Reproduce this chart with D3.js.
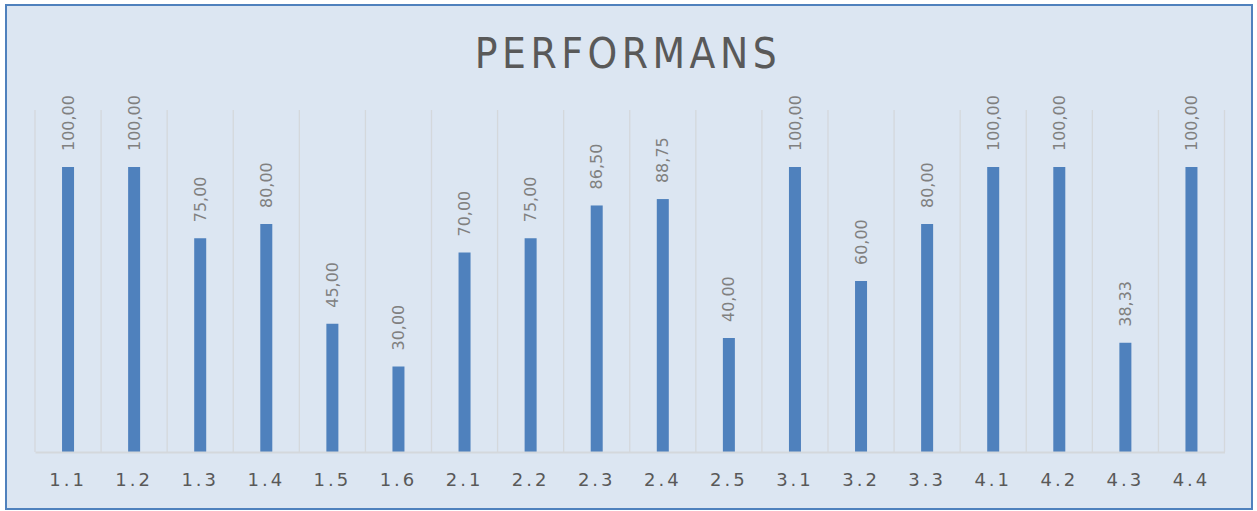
<!DOCTYPE html>
<html>
<head>
<meta charset="utf-8">
<script src="https://cdn.jsdelivr.net/npm/d3@7"></script>
<style>
  body { margin: 0; background: #fff; }
  svg { display: block; }
</style>
</head>
<body>
<div id="container"></div>
<script>
const categories = ['1.1', '1.2', '1.3', '1.4', '1.5', '1.6', '2.1', '2.2', '2.3', '2.4', '2.5', '3.1', '3.2', '3.3', '4.1', '4.2', '4.3', '4.4'],
  values = [100, 100, 75, 80, 45, 30, 70, 75, 86.5, 88.75, 40, 100, 60, 80, 100, 100, 38.33, 100],
  title = 'PERFORMANS';

const W = 1257, H = 511,
  plot = { left: 35, right: 1224.5, top: 110, bottom: 452 };

const svg = d3.select('#container')
  .append('svg')
    .attr('width', W)
    .attr('height', H);

// chart frame
svg.append('rect')
  .attr('x', 6).attr('y', 5)
  .attr('width', 1246).attr('height', 504)
  .attr('fill', '#dce6f2')
  .attr('stroke', '#4f81bd')
  .attr('stroke-width', 2);

svg.append('text')
  .attr('x', 628).attr('y', 68)
  .attr('text-anchor', 'middle')
  .attr('font-family', 'DejaVu Sans Condensed, DejaVu Sans, sans-serif')
  .attr('font-size', 42)
  .attr('letter-spacing', 4.5)
  .attr('fill', '#595959')
  .text(title);

const x = d3.scaleBand()
    .domain(categories)
    .range([plot.left, plot.right]),
  y = d3.scaleLinear()
    .domain([0, 120])
    .range([plot.bottom, plot.top]);

// vertical gridlines at category boundaries
svg.append('g')
  .selectAll('line')
  .data(d3.range(categories.length + 1))
  .enter()
  .append('line')
    .attr('x1', i => plot.left + i * x.step())
    .attr('x2', i => plot.left + i * x.step())
    .attr('y1', plot.top)
    .attr('y2', plot.bottom)
    .attr('stroke', '#d4d8dc')
    .attr('stroke-width', 1.3);

const barW = 12;
svg.append('g')
  .selectAll('rect')
  .data(values)
  .enter()
  .append('rect')
    .attr('x', (d, i) => x(categories[i]) + x.bandwidth() / 2 - barW / 2)
    .attr('y', d => y(d))
    .attr('width', barW)
    .attr('height', d => y(0) - y(d))
    .attr('fill', '#4f81bd');

// value labels, rotated
svg.append('g')
  .selectAll('text')
  .data(values)
  .enter()
  .append('text')
    .attr('transform', (d, i) => `translate(${x(categories[i]) + x.bandwidth() / 2},${y(d) - 16}) rotate(-90)`)
    .attr('dy', '0.35em')
    .attr('font-family', 'DejaVu Sans, sans-serif')
    .attr('font-size', 16)
    .attr('fill', '#808080')
    .text(d => d.toFixed(2).replace('.', ','));

// x axis
const xAxis = d3.axisBottom(x).tickSize(0).tickPadding(21);
const ax = svg.append('g')
  .attr('transform', `translate(0,${plot.bottom})`)
  .call(xAxis);
ax.select('.domain').attr('stroke', '#d4d8dc').attr('stroke-width', 2);
ax.selectAll('text')
  .attr('font-family', 'DejaVu Sans, sans-serif')
  .attr('font-size', 18)
  .attr('letter-spacing', 3)
  .attr('fill', '#595959');
</script>
</body>
</html>
